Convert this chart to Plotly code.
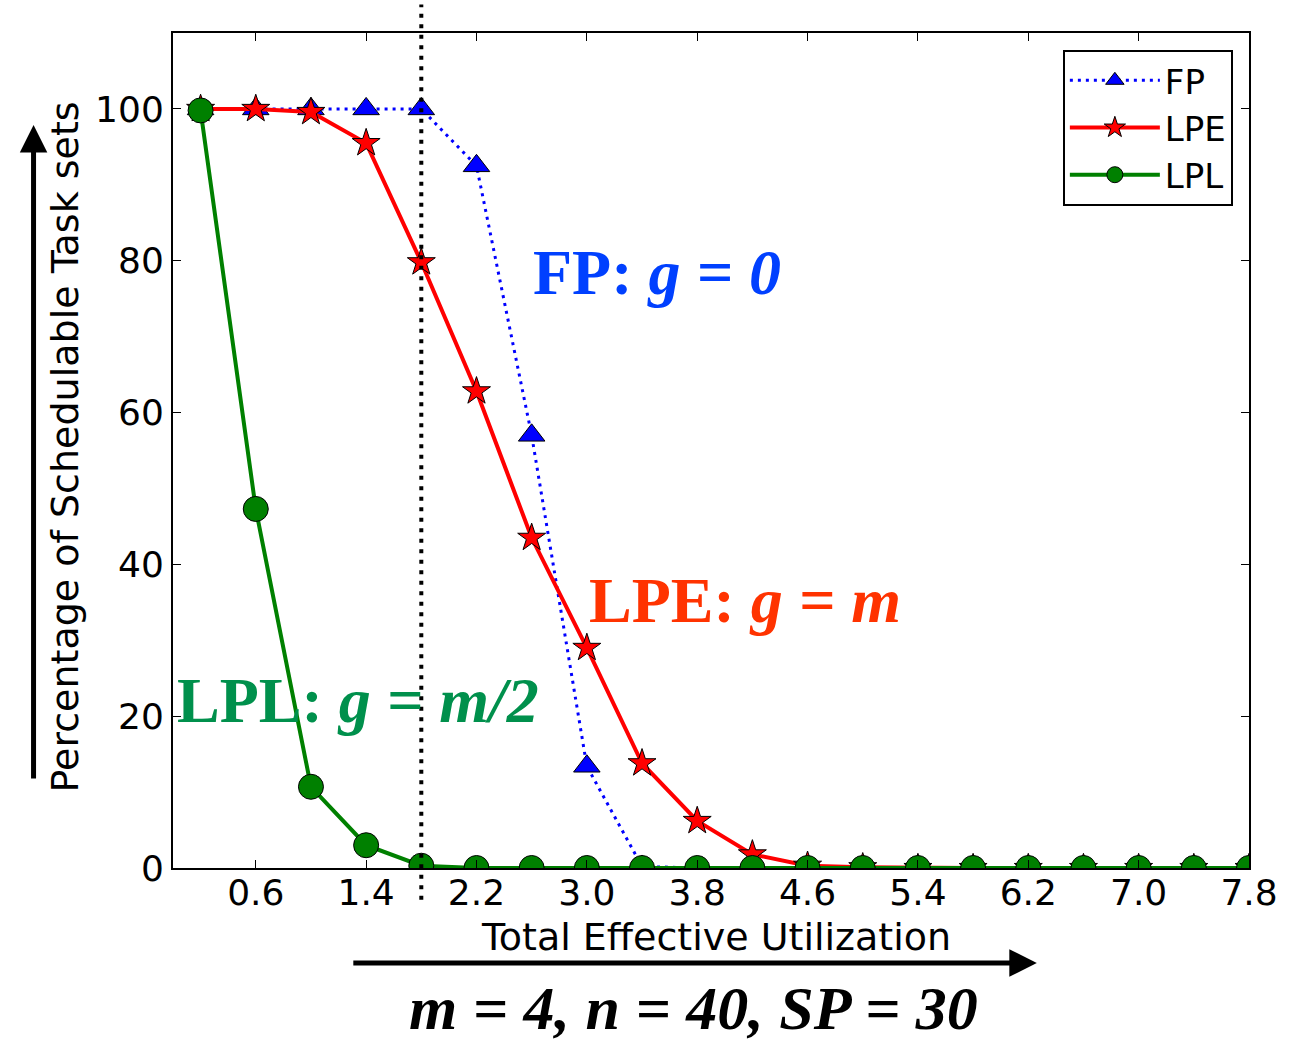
import plotly.graph_objects as go

# ---- data ----
utilization = [0.2, 0.6, 1.0, 1.4, 1.8, 2.2, 2.6, 3.0, 3.4, 3.8,
               4.2, 4.6, 5.0, 5.4, 5.8, 6.2, 6.6, 7.0, 7.4, 7.8]
fp = [100, 100, 100, 100, 100, 92.5, 57.0, 13.4, 0.2, 0,
      0, 0, 0, 0, 0, 0, 0, 0, 0, 0]
lpe = [100, 100, 99.6, 95.5, 79.8, 62.8, 43.5, 29.0, 13.8, 6.2,
       1.8, 0.3, 0.1, 0, 0, 0, 0, 0, 0, 0]
lpl = [99.8, 47.3, 10.7, 3.0, 0.3, 0, 0, 0, 0, 0,
       0, 0, 0, 0, 0, 0, 0, 0, 0, 0]
x_ticks = [0.6, 1.4, 2.2, 3.0, 3.8, 4.6, 5.4, 6.2, 7.0, 7.8]
x_tick_labels = ["0.6", "1.4", "2.2", "3.0", "3.8", "4.6", "5.4", "6.2", "7.0", "7.8"]
y_ticks = [0, 20, 40, 60, 80, 100]
x_range = [0, 7.8]
y_range = [0, 110]
threshold_u = 1.8

SANS = "DejaVu Sans"
SERIF = "Liberation Serif, Times New Roman, serif"

fig = go.Figure()
fig.add_trace(go.Scatter(
    x=utilization, y=fp, name="FP", mode="lines+markers",
    line=dict(color="#0000FF", width=3, dash="3px,5px"),
    marker=dict(symbol="triangle-up", size=23, color="#0000FF",
                line=dict(color="black", width=1)),
))
fig.add_trace(go.Scatter(
    x=utilization, y=lpe, name="LPE", mode="lines+markers",
    line=dict(color="#FF0000", width=4),
    marker=dict(symbol="star", size=21, color="#FF0000",
                line=dict(color="black", width=1)),
))
fig.add_trace(go.Scatter(
    x=utilization, y=lpl, name="LPL", mode="lines+markers",
    line=dict(color="#008000", width=4),
    marker=dict(symbol="circle", size=25, color="#008000",
                line=dict(color="black", width=1)),
))

# vertical dotted threshold line (paper coords derived from data value)
xp = (threshold_u - x_range[0]) / (x_range[1] - x_range[0])
fig.add_shape(type="line", xref="paper", yref="paper",
              x0=xp, x1=xp, y0=-0.038, y1=1.034,
              line=dict(color="black", width=4, dash="4px,6.5px"))

C = dict(xanchor="center", yanchor="middle")
annotations = [
    dict(text="<b>FP:</b> <b><i>g = 0</i></b>", x=3.51, y=78.5, xref="x", yref="y",
         showarrow=False, font=dict(family=SERIF, size=64, color="#0040FF"), **C),
    dict(text="<b>LPE:</b> <b><i>g = m</i></b>", x=4.15, y=35.3, xref="x", yref="y",
         showarrow=False, font=dict(family=SERIF, size=64, color="#FF3300"), **C),
    dict(text="<b>LPL:</b> <b><i>g = m/2</i></b>", x=1.34, y=22.1, xref="x", yref="y",
         showarrow=False, font=dict(family=SERIF, size=64, color="#00904C"), **C),
    dict(text="<b><i>m = 4, n = 40, SP = 30</i></b>", x=0.484, y=-0.168,
         xref="paper", yref="paper", showarrow=False,
         font=dict(family=SERIF, size=62, color="black"), **C),
    dict(text="Total Effective Utilization", x=0.5046, y=-0.0826,
         xref="paper", yref="paper", showarrow=False,
         font=dict(family=SANS, size=38, color="black"), **C),
    dict(text="Percentage of Schedulable Task sets", x=-0.1, y=0.504,
         xref="paper", yref="paper", showarrow=False, textangle=-90,
         font=dict(family=SANS, size=38, color="black"), **C),
    # arrows
    dict(text="", x=-0.1296, y=0.8898, xref="paper", yref="paper",
         showarrow=True, ax=0, ay=655, arrowhead=2, arrowsize=1.1,
         arrowwidth=5, arrowcolor="black"),
    dict(text="", x=0.8028, y=-0.1138, xref="paper", yref="paper",
         showarrow=True, ax=-685, ay=0, arrowhead=2, arrowsize=1.1,
         arrowwidth=5, arrowcolor="black"),
]

fig.update_layout(
    width=1290, height=1046,
    margin=dict(l=173, r=37, t=33, b=178),
    plot_bgcolor="white", paper_bgcolor="white",
    font=dict(family=SANS, size=36, color="black"),
    showlegend=True,
    legend=dict(x=0.985, y=0.98, xanchor="right", yanchor="top",
                bordercolor="black", borderwidth=2, bgcolor="white",
                font=dict(family=SANS, size=34, color="black"),
                itemwidth=90),
    annotations=annotations,
)
fig.update_xaxes(range=x_range, tickvals=x_ticks, ticktext=x_tick_labels,
                 showgrid=False, zeroline=False, showline=True,
                 linecolor="black", linewidth=2, mirror="ticks",
                 ticks="inside", ticklen=8, tickcolor="black", tickwidth=1,
                 ticklabelstandoff=-8,
                 tickfont=dict(family=SANS, size=36, color="black"))
fig.update_yaxes(range=y_range, tickvals=y_ticks,
                 showgrid=False, zeroline=False, showline=True,
                 linecolor="black", linewidth=2, mirror="ticks",
                 ticks="inside", ticklen=8, tickcolor="black", tickwidth=1,
                 tickfont=dict(family=SANS, size=36, color="black"))

fig.write_html("out.html", config={"displayModeBar": False},
               post_script="document.body.style.margin='0';document.body.style.overflow='hidden';")
